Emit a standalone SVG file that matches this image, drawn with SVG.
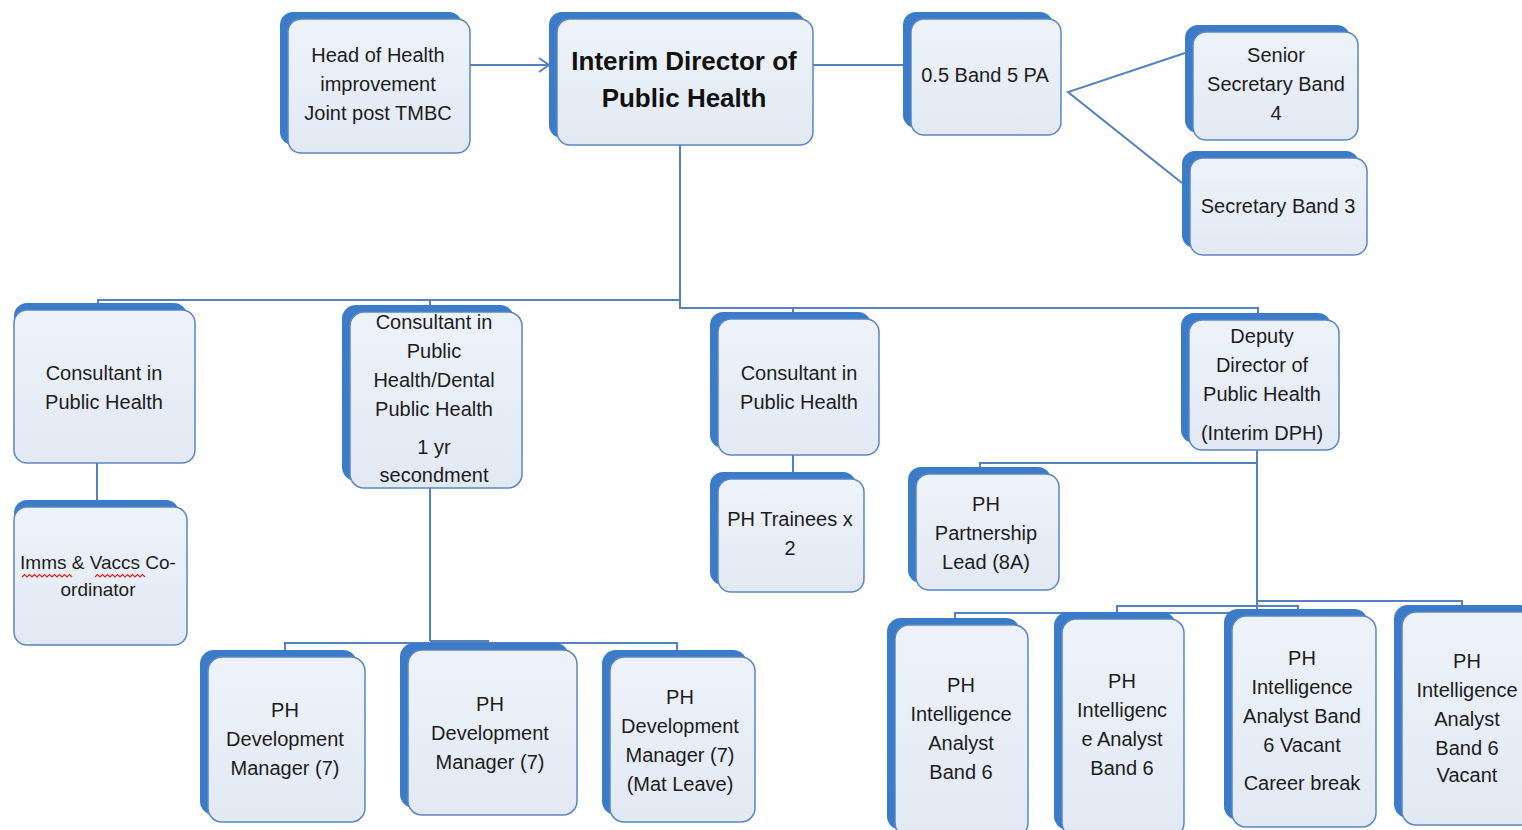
<svg xmlns="http://www.w3.org/2000/svg" width="1522" height="830" viewBox="0 0 1522 830">
<style>
.bk{fill:#3b7bc8;}
.fr{fill:url(#g);stroke:#5a86c2;stroke-width:1.5;}
.t{font-family:"Liberation Sans",Arial,sans-serif;font-size:20px;fill:#1c1c1c;text-anchor:middle;}
.tb{font-family:"Liberation Sans",Arial,sans-serif;font-size:26px;font-weight:bold;fill:#111;text-anchor:middle;}
.c{fill:none;stroke:#5582bd;stroke-width:2;}
.w{fill:none;stroke:#e0201c;stroke-width:1.2;}
</style>
<defs>
<linearGradient id="g" x1="0" y1="0" x2="0" y2="1">
<stop offset="0" stop-color="#eef3fa"/>
<stop offset="1" stop-color="#e2e9f3"/>
</linearGradient>
<marker id="arr" viewBox="0 0 12 16" refX="11" refY="8" markerWidth="12" markerHeight="16" markerUnits="userSpaceOnUse" orient="auto">
<path d="M1,1 L11,8 L1,15" fill="none" stroke="#5582bd" stroke-width="2"/>
</marker>
</defs>
<rect width="1522" height="830" fill="#fff"/>

<g id="connectors">
<line class="c" x1="470" y1="65" x2="549" y2="65" marker-end="url(#arr)"/>
<line class="c" x1="813" y1="65" x2="903" y2="65"/>
<polyline class="c" points="1185,53 1068,92 1182,183"/>
<polyline class="c" points="680,145 680,300 98,300 98,305"/>
<polyline class="c" points="430,300 430,305"/>
<polyline class="c" points="680,300 680,308 1258,308 1258,313"/>
<polyline class="c" points="793,308 793,312"/>
<line class="c" x1="97" y1="463" x2="97" y2="500"/>
<polyline class="c" points="430,488 430,641"/>
<polyline class="c" points="285,650 285,643 677,643 677,650"/>
<polyline class="c" points="430,641 488,641 488,643"/>
<line class="c" x1="793" y1="455" x2="793" y2="472"/>
<polyline class="c" points="1257,450 1257,613"/>
<polyline class="c" points="980,467 980,463 1257,463"/>
<polyline class="c" points="955,620 955,613 1257,613"/>
<polyline class="c" points="1117,612 1117,606 1298,606 1298,610"/>
<polyline class="c" points="1257,601 1462,601 1462,605"/>
</g>

<g id="n-head">
<rect class="bk" x="280" y="12" width="182" height="133" rx="13"/>
<rect class="fr" x="288" y="19" width="182" height="134" rx="13"/>
<text class="t" x="378" y="62">Head of Health</text>
<text class="t" x="378" y="91">improvement</text>
<text class="t" x="378" y="120">Joint post TMBC</text>
</g>

<g id="n-interim">
<rect class="bk" x="549" y="12" width="256" height="126" rx="13"/>
<rect class="fr" x="557" y="19" width="256" height="126" rx="13"/>
<text class="tb" x="684" y="70">Interim Director of</text>
<text class="tb" x="684" y="107">Public Health</text>
</g>

<g id="n-pa">
<rect class="bk" x="903" y="12" width="150" height="116" rx="13"/>
<rect class="fr" x="911" y="19" width="150" height="116" rx="13"/>
<text class="t" x="985" y="82">0.5 Band 5 PA</text>
</g>

<g id="n-senior">
<rect class="bk" x="1185" y="25" width="165" height="108" rx="13"/>
<rect class="fr" x="1193" y="32" width="165" height="108" rx="13"/>
<text class="t" x="1276" y="62">Senior</text>
<text class="t" x="1276" y="91">Secretary Band</text>
<text class="t" x="1276" y="120">4</text>
</g>

<g id="n-sec3">
<rect class="bk" x="1182" y="151" width="177" height="97" rx="13"/>
<rect class="fr" x="1190" y="158" width="177" height="97" rx="13"/>
<text class="t" x="1278" y="213">Secretary Band 3</text>
</g>

<g id="n-cons1">
<rect class="bk" x="14" y="303" width="173" height="153" rx="13"/>
<rect class="fr" x="14" y="310" width="181" height="153" rx="13"/>
<text class="t" x="104" y="380">Consultant in</text>
<text class="t" x="104" y="409">Public Health</text>
</g>

<g id="n-imms">
<rect class="bk" x="14" y="500" width="165" height="138" rx="13"/>
<rect class="fr" x="14" y="507" width="173" height="138" rx="13"/>
<text class="t" x="98" y="569" style="font-size:19px">Imms &amp; Vaccs Co-</text>
<text class="t" x="98" y="596" style="font-size:19px">ordinator</text>
<path class="w" d="M22,577 l2.5,-2.5 2.5,2.5 2.5,-2.5 2.5,2.5 2.5,-2.5 2.5,2.5 2.5,-2.5 2.5,2.5 2.5,-2.5 2.5,2.5 2.5,-2.5 2.5,2.5 2.5,-2.5 2.5,2.5 2.5,-2.5 2.5,2.5 2.5,-2.5 2.5,2.5 2.5,-2.5 2.5,2.5"/>
<path class="w" d="M95,577 l2.5,-2.5 2.5,2.5 2.5,-2.5 2.5,2.5 2.5,-2.5 2.5,2.5 2.5,-2.5 2.5,2.5 2.5,-2.5 2.5,2.5 2.5,-2.5 2.5,2.5 2.5,-2.5 2.5,2.5 2.5,-2.5 2.5,2.5 2.5,-2.5 2.5,2.5 2.5,-2.5 2.5,2.5"/>
</g>

<g id="n-dental">
<rect class="bk" x="342" y="305" width="172" height="176" rx="14"/>
<rect class="fr" x="350" y="312" width="172" height="176" rx="14"/>
<text class="t" x="434" y="329">Consultant in</text>
<text class="t" x="434" y="358">Public</text>
<text class="t" x="434" y="387">Health/Dental</text>
<text class="t" x="434" y="416">Public Health</text>
<text class="t" x="434" y="454">1 yr</text>
<text class="t" x="434" y="482">secondment</text>
</g>

<g id="n-cons2">
<rect class="bk" x="710" y="312" width="161" height="136" rx="13"/>
<rect class="fr" x="718" y="319" width="161" height="136" rx="13"/>
<text class="t" x="799" y="380">Consultant in</text>
<text class="t" x="799" y="409">Public Health</text>
</g>

<g id="n-trainees">
<rect class="bk" x="710" y="472" width="146" height="113" rx="13"/>
<rect class="fr" x="718" y="479" width="146" height="113" rx="13"/>
<text class="t" x="790" y="526">PH Trainees x</text>
<text class="t" x="790" y="555">2</text>
</g>

<g id="n-deputy">
<rect class="bk" x="1181" y="313" width="150" height="130" rx="13"/>
<rect class="fr" x="1189" y="320" width="150" height="130" rx="13"/>
<text class="t" x="1262" y="343">Deputy</text>
<text class="t" x="1262" y="372">Director of</text>
<text class="t" x="1262" y="401">Public Health</text>
<text class="t" x="1262" y="440">(Interim DPH)</text>
</g>

<g id="n-partner">
<rect class="bk" x="908" y="467" width="143" height="116" rx="13"/>
<rect class="fr" x="916" y="474" width="143" height="116" rx="13"/>
<text class="t" x="986" y="511">PH</text>
<text class="t" x="986" y="540">Partnership</text>
<text class="t" x="986" y="569">Lead (8A)</text>
</g>

<g id="n-dev1">
<rect class="bk" x="200" y="650" width="157" height="165" rx="14"/>
<rect class="fr" x="208" y="657" width="157" height="165" rx="14"/>
<text class="t" x="285" y="717">PH</text>
<text class="t" x="285" y="746">Development</text>
<text class="t" x="285" y="775">Manager (7)</text>
</g>

<g id="n-dev2">
<rect class="bk" x="400" y="643" width="169" height="165" rx="14"/>
<rect class="fr" x="408" y="650" width="169" height="165" rx="14"/>
<text class="t" x="490" y="711">PH</text>
<text class="t" x="490" y="740">Development</text>
<text class="t" x="490" y="769">Manager (7)</text>
</g>

<g id="n-dev3">
<rect class="bk" x="602" y="650" width="145" height="165" rx="14"/>
<rect class="fr" x="610" y="657" width="145" height="165" rx="14"/>
<text class="t" x="680" y="704">PH</text>
<text class="t" x="680" y="733">Development</text>
<text class="t" x="680" y="762">Manager (7)</text>
<text class="t" x="680" y="791">(Mat Leave)</text>
</g>

<g id="n-intel1">
<rect class="bk" x="887" y="618" width="133" height="212" rx="14"/>
<rect class="fr" x="895" y="625" width="133" height="212" rx="14"/>
<text class="t" x="961" y="692">PH</text>
<text class="t" x="961" y="721">Intelligence</text>
<text class="t" x="961" y="750">Analyst</text>
<text class="t" x="961" y="779">Band 6</text>
</g>

<g id="n-intel2">
<rect class="bk" x="1054" y="612" width="122" height="218" rx="14"/>
<rect class="fr" x="1062" y="619" width="122" height="218" rx="14"/>
<text class="t" x="1122" y="688">PH</text>
<text class="t" x="1122" y="717">Intelligenc</text>
<text class="t" x="1122" y="746">e Analyst</text>
<text class="t" x="1122" y="775">Band 6</text>
</g>

<g id="n-intel3">
<rect class="bk" x="1224" y="609" width="144" height="211" rx="14"/>
<rect class="fr" x="1232" y="616" width="144" height="211" rx="14"/>
<text class="t" x="1302" y="665">PH</text>
<text class="t" x="1302" y="694">Intelligence</text>
<text class="t" x="1302" y="723">Analyst Band</text>
<text class="t" x="1302" y="752">6 Vacant</text>
<text class="t" x="1302" y="790">Career break</text>
</g>

<g id="n-intel4">
<rect class="bk" x="1394" y="605" width="140" height="213" rx="14"/>
<rect class="fr" x="1402" y="612" width="140" height="213" rx="14"/>
<text class="t" x="1467" y="668">PH</text>
<text class="t" x="1467" y="697">Intelligence</text>
<text class="t" x="1467" y="726">Analyst</text>
<text class="t" x="1467" y="755">Band 6</text>
<text class="t" x="1467" y="782">Vacant</text>
</g>
</svg>
